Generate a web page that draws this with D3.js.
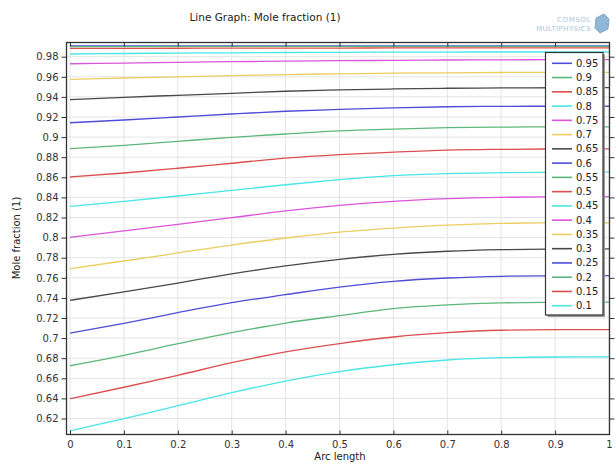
<!DOCTYPE html>
<html>
<head>
<meta charset="utf-8">
<script src="https://cdn.jsdelivr.net/npm/d3@7"></script>
<style>
  body { margin: 0; background: #fff; }
  svg { font-family: "DejaVu Sans", sans-serif; }
  .grid line { stroke: #e4e4e4; stroke-width: 1; }
  .tickLabel { font-size: 10px; fill: #333; }
</style>
</head>
<body>
<svg id="chart" width="616" height="464"></svg>
<script>
// arc length samples
var arcLength = [0, 0.1, 0.2, 0.3, 0.4, 0.5, 0.6, 0.7, 0.8, 0.9, 1];

// legend entries, in drawing order
var paramLabels = ["0.95", "0.9", "0.85", "0.8", "0.75", "0.7", "0.65", "0.6", "0.55",
                   "0.5", "0.45", "0.4", "0.35", "0.3", "0.25", "0.2", "0.15", "0.1"];

var s095 = [0.9908, 0.9908, 0.9908, 0.9908, 0.9908, 0.9908, 0.9908, 0.9908, 0.9908, 0.9908, 0.9908];
var s090 = [0.9901, 0.9901, 0.9902, 0.9902, 0.9902, 0.9902, 0.9902, 0.9902, 0.9902, 0.9902, 0.9902];
var s085 = [0.9882, 0.9883, 0.9884, 0.9885, 0.9886, 0.9886, 0.9887, 0.9887, 0.9887, 0.9887, 0.9887];
var s080 = [0.9827, 0.9832, 0.9836, 0.9839, 0.9842, 0.9844, 0.9845, 0.9846, 0.9847, 0.9847, 0.9847];
var s075 = [0.9730, 0.9737, 0.9744, 0.9750, 0.9755, 0.9760, 0.9764, 0.9767, 0.9769, 0.9770, 0.9770];
var s070 = [0.9575, 0.9588, 0.9600, 0.9612, 0.9622, 0.9630, 0.9636, 0.9640, 0.9643, 0.9645, 0.9645];
var s065 = [0.9372, 0.9396, 0.9416, 0.9436, 0.9456, 0.9469, 0.9479, 0.9486, 0.9489, 0.9491, 0.9492];
var s060 = [0.9143, 0.9170, 0.9200, 0.9230, 0.9257, 0.9275, 0.9290, 0.9302, 0.9306, 0.9307, 0.9307];
var s055 = [0.8885, 0.8918, 0.8958, 0.8998, 0.9031, 0.9062, 0.9080, 0.9094, 0.9100, 0.9101, 0.9101];
var s050 = [0.8603, 0.8643, 0.8690, 0.8740, 0.8790, 0.8825, 0.8850, 0.8870, 0.8878, 0.8882, 0.8882];
var s045 = [0.8311, 0.8361, 0.8414, 0.8470, 0.8526, 0.8576, 0.8616, 0.8636, 0.8646, 0.8651, 0.8653];
var s040 = [0.8003, 0.8066, 0.8132, 0.8198, 0.8265, 0.8320, 0.8361, 0.8387, 0.8401, 0.8406, 0.8407];
var s035 = [0.7690, 0.7767, 0.7847, 0.7926, 0.7996, 0.8055, 0.8095, 0.8125, 0.8142, 0.8147, 0.8148];
var s030 = [0.7376, 0.7459, 0.7548, 0.7638, 0.7718, 0.7784, 0.7834, 0.7864, 0.7880, 0.7886, 0.7887];
var s025 = [0.7050, 0.7147, 0.7253, 0.7352, 0.7432, 0.7508, 0.7565, 0.7598, 0.7615, 0.7620, 0.7621];
var s020 = [0.6725, 0.6829, 0.6944, 0.7054, 0.7150, 0.7224, 0.7293, 0.7330, 0.7350, 0.7356, 0.7358];
var s015 = [0.6397, 0.6511, 0.6630, 0.6755, 0.6862, 0.6945, 0.7011, 0.7054, 0.7078, 0.7084, 0.7085];
var s010 = [0.6076, 0.6198, 0.6327, 0.6457, 0.6573, 0.6667, 0.6735, 0.6782, 0.6805, 0.6812, 0.6813];

var xTicks = [0, 0.1, 0.2, 0.3, 0.4, 0.5, 0.6, 0.7, 0.8, 0.9, 1];
var yTicks = [0.62, 0.64, 0.66, 0.68, 0.7, 0.72, 0.74, 0.76, 0.78, 0.8, 0.82, 0.84, 0.86,
              0.88, 0.9, 0.92, 0.94, 0.96, 0.98];

var colorCycle = ["#4d4dd8", "#5cb87a", "#dc4f4f", "#48e6e6", "#d955d9", "#ebcd60", "#494949"];

var allSeries = [s095, s090, s085, s080, s075, s070, s065, s060, s055,
                 s050, s045, s040, s035, s030, s025, s020, s015, s010];

var series = paramLabels.map(function(p, i) {
    return {
        label: p,
        color: colorCycle[i % colorCycle.length],
        values: allSeries[i].map(function(v, j) { return {x: arcLength[j], y: v}; })
    };
});

var frame = {left: 66.5, right: 609.5, top: 42.5, bottom: 434.5};

var xScale = d3.scaleLinear().domain([0, 1]).range([70, 609]);
var yScale = d3.scaleLinear().domain([0.98, 0.62]).range([56.7, 418.5]);

var svg = d3.select("#chart");

// title
svg.append("text")
    .attr("x", 265)
    .attr("y", 21)
    .attr("text-anchor", "middle")
    .style("font-size", "10.5px")
    .style("fill", "#222")
    .text("Line Graph: Mole fraction (1)");

// comsol logo
svg.append("text")
    .attr("x", 591).attr("y", 22)
    .attr("text-anchor", "end")
    .style("font-size", "7px").style("letter-spacing", "0.6px")
    .style("fill", "#a9c6dc")
    .text("COMSOL");
svg.append("text")
    .attr("x", 591).attr("y", 31)
    .attr("text-anchor", "end")
    .style("font-size", "7px").style("letter-spacing", "0.4px")
    .style("fill", "#a9c6dc")
    .text("MULTIPHYSICS");
svg.append("path")
    .attr("d", "M596,18 L604,14 L609,19 L608,29 L600,33 L595,28 Z")
    .style("fill", "#8fb8d8").style("stroke", "#6d9cc2").style("stroke-width", 0.8);

// gridlines
var grid = svg.append("g").attr("class", "grid");
grid.selectAll(".vgrid")
    .data(xTicks)
    .enter()
    .append("line")
    .attr("x1", function(d) { return xScale(d); })
    .attr("x2", function(d) { return xScale(d); })
    .attr("y1", frame.top)
    .attr("y2", frame.bottom);
grid.selectAll(".hgrid")
    .data(yTicks)
    .enter()
    .append("line")
    .attr("x1", frame.left)
    .attr("x2", frame.right)
    .attr("y1", function(d) { return yScale(d); })
    .attr("y2", function(d) { return yScale(d); });

// curves
var line = d3.line()
    .x(function(d) { return xScale(d.x); })
    .y(function(d) { return yScale(d.y); })
    .curve(d3.curveMonotoneX);

svg.selectAll(".curve")
    .data(series)
    .enter()
    .append("path")
    .attr("class", "curve")
    .attr("d", function(d) { return line(d.values); })
    .style("fill", "none")
    .style("stroke", function(d) { return d.color; })
    .style("stroke-width", 1.3);

// frame
svg.append("rect")
    .attr("x", frame.left)
    .attr("y", frame.top)
    .attr("width", frame.right - frame.left)
    .attr("height", frame.bottom - frame.top)
    .style("fill", "none")
    .style("stroke", "#333")
    .style("stroke-width", 1.3);

// axes
var yAxis = svg.append("g")
    .attr("transform", "translate(" + frame.left + ",0)")
    .call(d3.axisLeft(yScale).tickValues(yTicks).tickSize(5).tickPadding(3)
        .tickFormat(function(d) { return String(+d.toFixed(2)); }));
yAxis.select(".domain").remove();
yAxis.selectAll("line").style("stroke", "#333");
yAxis.selectAll("text").attr("class", "tickLabel").style("font-family", "DejaVu Sans");

var yRight = svg.append("g")
    .attr("transform", "translate(" + frame.right + ",0)")
    .call(d3.axisRight(yScale).tickValues(yTicks).tickSize(5).tickFormat(""));
yRight.select(".domain").remove();
yRight.selectAll("line").style("stroke", "#333");

var xAxis = svg.append("g")
    .attr("transform", "translate(0," + frame.bottom + ")")
    .call(d3.axisBottom(xScale).tickValues(xTicks).tickSize(-4).tickPadding(6)
        .tickFormat(function(d) { return String(+d.toFixed(1)); }));
xAxis.select(".domain").remove();
xAxis.selectAll("line").style("stroke", "#333");
xAxis.selectAll("text").attr("class", "tickLabel").style("font-family", "DejaVu Sans");

var xTop = svg.append("g")
    .attr("transform", "translate(0," + frame.top + ")")
    .call(d3.axisTop(xScale).tickValues(xTicks).tickSize(-4).tickFormat(""));
xTop.select(".domain").remove();
xTop.selectAll("line").style("stroke", "#333");

// axis titles
svg.append("text")
    .attr("x", 340)
    .attr("y", 460)
    .attr("text-anchor", "middle")
    .style("font-size", "10px")
    .style("fill", "#222")
    .text("Arc length");

svg.append("text")
    .attr("transform", "translate(20,238) rotate(-90)")
    .attr("text-anchor", "middle")
    .style("font-size", "10px")
    .style("fill", "#222")
    .text("Mole fraction (1)");

// legend
var legend = {x: 545.5, y: 52.5, width: 57.5, height: 262.5, rowStep: 14.26, firstRow: 63.3};

svg.append("rect")
    .attr("x", legend.x + 2)
    .attr("y", legend.y + 2)
    .attr("width", legend.width)
    .attr("height", legend.height)
    .style("fill", "#999");

svg.append("rect")
    .attr("x", legend.x)
    .attr("y", legend.y)
    .attr("width", legend.width)
    .attr("height", legend.height)
    .style("fill", "#fff")
    .style("stroke", "#333")
    .style("stroke-width", 1.2);

var legendRows = svg.selectAll(".legendRow")
    .data(series)
    .enter()
    .append("g")
    .attr("class", "legendRow")
    .attr("transform", function(d, i) { return "translate(0," + (legend.firstRow + i * legend.rowStep) + ")"; });

legendRows.append("line")
    .attr("x1", 552).attr("x2", 572)
    .attr("y1", 0).attr("y2", 0)
    .style("stroke", function(d) { return d.color; })
    .style("stroke-width", 1.6);

legendRows.append("text")
    .attr("x", 576)
    .attr("dy", "0.35em")
    .style("font-size", "10px")
    .style("fill", "#222")
    .text(function(d) { return d.label; });
</script>
</body>
</html>
